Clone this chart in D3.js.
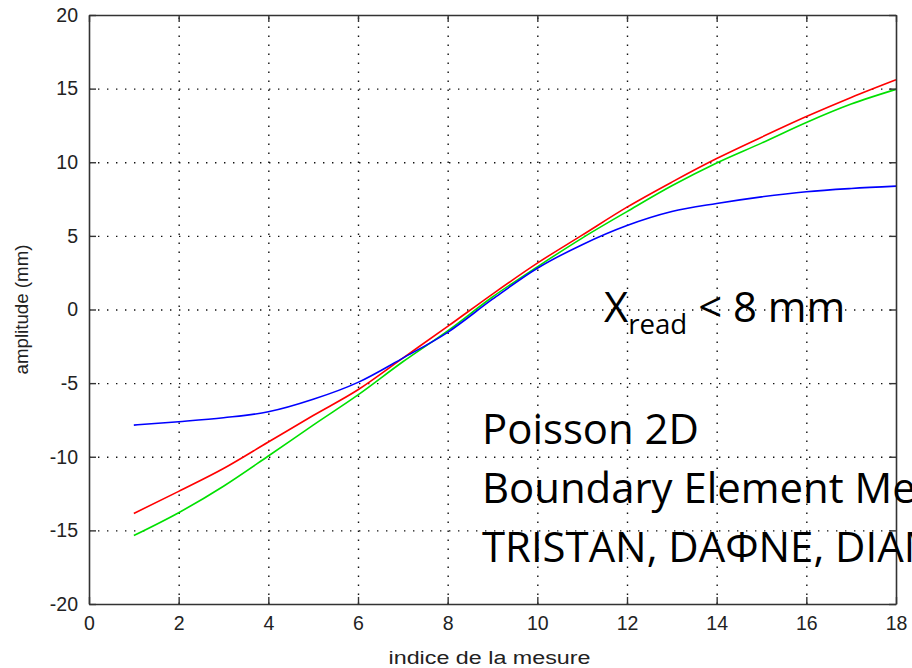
<!DOCTYPE html>
<html>
<head>
<meta charset="utf-8">
<script src="https://cdn.jsdelivr.net/npm/d3@7"></script>
<style>
  html, body { margin: 0; padding: 0; background: #fff; overflow: hidden; }
  svg { display: block; }
</style>
</head>
<body>
<svg id="chart" width="912" height="668"></svg>
<script>
// ---- data ----
const xIndex = [1,2,3,4,5,6,7,8,9,10,11,12,13,14,15,16,17,18];
const redValues   = [-13.85,-12.35,-10.8,-9.0,-7.2,-5.45,-3.3,-1.15,1.05,3.15,5.05,6.95,8.65,10.25,11.7,13.1,14.4,15.6];
const greenValues = [-15.35,-13.8,-12.0,-9.95,-7.85,-5.8,-3.55,-1.45,0.85,2.9,4.85,6.65,8.4,9.95,11.3,12.7,13.95,14.95];
const blueValues  = [-7.85,-7.62,-7.35,-6.95,-6.1,-4.95,-3.3,-1.55,0.7,2.8,4.4,5.7,6.65,7.2,7.65,8.0,8.22,8.38];
const xTicks = [0,2,4,6,8,10,12,14,16,18];
const yTicks = [-20,-15,-10,-5,0,5,10,15,20];
const xLabel = "indice de la mesure";
const yLabel = "amplitude (mm)";
const series = [
  {name: "red", values: redValues, color: "#ff0000"},
  {name: "green", values: greenValues, color: "#00e000"},
  {name: "blue", values: blueValues, color: "#0000ff"}
];
const noteLines = ["Poisson 2D", "Boundary Element Method", "TRISTAN, DAΦNE, DIAMOND"];

// ---- layout ----
const svg = d3.select("#chart");
const pL = 89, pR = 896, pT = 15, pB = 604;
const W = pR - pL, H = pB - pT;

const x = d3.scaleLinear().domain([0, 18]).range([pL, pR]);
const y = d3.scaleLinear().domain([-20, 20]).range([pB, pT]);

const tickFont = "'Liberation Sans', Arial, sans-serif";
const fmt = v => String(v); // plain hyphen-minus like the reference

// grid
const grid = svg.append("g").attr("class", "grid");
grid.append("g")
  .attr("transform", `translate(0,${pB})`)
  .call(d3.axisBottom(x).tickValues(xTicks.filter(v => v > 0 && v < 18)).tickSize(-H).tickFormat(""))
  .call(g => g.select(".domain").remove());
grid.append("g")
  .attr("transform", `translate(${pL},0)`)
  .call(d3.axisLeft(y).tickValues(yTicks.filter(v => v > -20 && v < 20)).tickSize(-W).tickFormat(""))
  .call(g => g.select(".domain").remove());
grid.selectAll("line")
  .attr("stroke", "#111")
  .attr("stroke-width", 1.4)
  .attr("stroke-dasharray", "1.4,7.6");

// lines
const line = d3.line()
  .x((d, i) => x(xIndex[i]))
  .y(d => y(d))
  .curve(d3.curveMonotoneX);
svg.append("g").selectAll("path")
  .data(series)
  .join("path")
  .attr("fill", "none")
  .attr("stroke", d => d.color)
  .attr("stroke-width", 1.6)
  .attr("d", d => line(d.values));

// axes
const axisColor = "#333";
const styleAxis = g => {
  g.select(".domain").attr("stroke", axisColor).attr("stroke-width", 1.6);
  g.selectAll(".tick line").attr("stroke", axisColor).attr("stroke-width", 1.4);
  g.selectAll(".tick text").attr("fill", "#222").style("font-family", tickFont).style("font-size", "19.5px");
};
svg.append("g")
  .attr("transform", `translate(0,${pB})`)
  .call(d3.axisBottom(x).tickValues(xTicks).tickFormat(fmt).tickSizeInner(-7).tickSizeOuter(0).tickPadding(12))
  .call(styleAxis);
svg.append("g")
  .attr("transform", `translate(0,${pT})`)
  .call(d3.axisTop(x).tickValues(xTicks).tickSizeInner(-7).tickSizeOuter(0).tickFormat(""))
  .call(styleAxis);
svg.append("g")
  .attr("transform", `translate(${pL},0)`)
  .call(d3.axisLeft(y).tickValues(yTicks).tickFormat(fmt).tickSizeInner(-7).tickSizeOuter(0).tickPadding(11))
  .call(styleAxis);
svg.append("g")
  .attr("transform", `translate(${pR},0)`)
  .call(d3.axisRight(y).tickValues(yTicks).tickSizeInner(-7).tickSizeOuter(0).tickFormat(""))
  .call(styleAxis);

// axis labels
svg.append("text")
  .attr("x", (pL + pR) / 2 - 3)
  .attr("y", 664)
  .attr("text-anchor", "middle")
  .attr("fill", "#222")
  .attr("textLength", 202)
  .attr("lengthAdjust", "spacingAndGlyphs")
  .style("font-family", tickFont)
  .style("font-size", "18px")
  .text(xLabel);

svg.append("text")
  .attr("transform", `translate(28,${(pT + pB) / 2}) rotate(-90)`)
  .attr("text-anchor", "middle")
  .attr("fill", "#222")
  .attr("textLength", 130)
  .attr("lengthAdjust", "spacingAndGlyphs")
  .style("font-family", tickFont)
  .style("font-size", "18px")
  .text(yLabel);

// annotation overlays
const noteFont = "'Open Sans', Lato, sans-serif";
const probe = svg.append("text").style("font-family", noteFont).style("font-size", "40px").text(noteLines[0]);
const measured = probe.node().getComputedTextLength();
probe.remove();
const noteSize = 40 * 217 / measured;

const xr = svg.append("text")
  .attr("x", 604)
  .attr("y", 322)
  .attr("fill", "#000")
  .style("font-family", noteFont)
  .style("font-size", noteSize + "px");
xr.append("tspan").text("X");
xr.append("tspan").attr("dy", 12).style("font-size", (noteSize * 0.66) + "px").text("read");
xr.append("tspan").attr("dy", -12).text(" < 8 mm");

svg.append("g").selectAll("text")
  .data(noteLines)
  .join("text")
  .attr("x", 482)
  .attr("y", (d, i) => 444 + i * 59)
  .attr("fill", "#000")
  .style("font-family", noteFont)
  .style("font-size", noteSize + "px")
  .text(d => d);
</script>
</body>
</html>
